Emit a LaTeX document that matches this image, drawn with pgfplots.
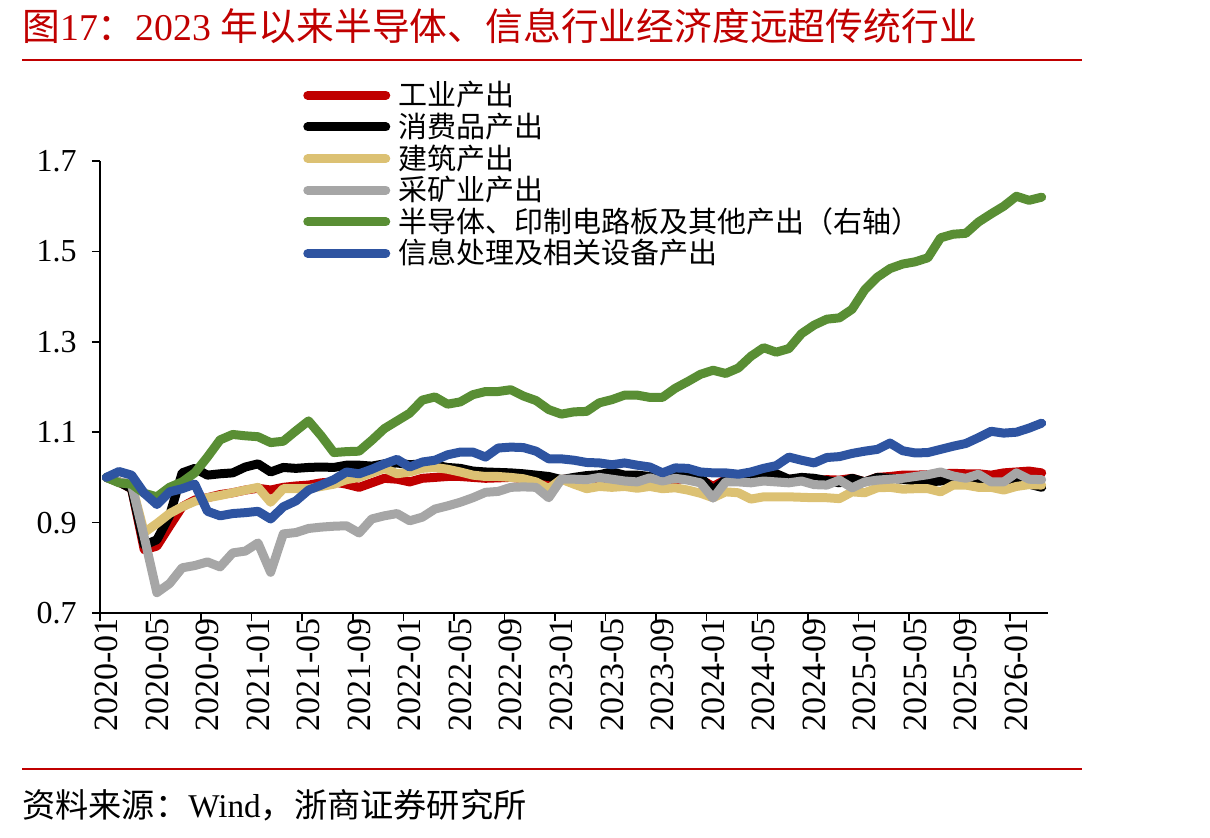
\documentclass[border=0pt]{standalone}
\usepackage{fontspec}
\setmainfont{Liberation Serif}
\newfontfamily\cjk{Noto Sans CJK SC}
\usepackage{pgfplots}
\usepackage{pgfplotstable}
\pgfplotsset{compat=1.18}

\definecolor{zsRed}{RGB}{192,0,0}
\definecolor{indRed}{RGB}{192,0,0}
\definecolor{consBlack}{RGB}{0,0,0}
\definecolor{constrTan}{RGB}{220,193,115}
\definecolor{mineGray}{RGB}{166,166,166}
\definecolor{semiGreen}{RGB}{89,142,52}
\definecolor{infoBlue}{RGB}{46,84,161}

% Monthly output indices, 2020-01 = 1
\pgfplotstableread{
idx ind   cons  constr mining semi  info
0   1.000 1.000 1.000 1.000 1.000 1.000
1   0.990 0.990 0.990 0.990 0.988 1.013
2   0.975 0.975 0.985 0.985 0.985 1.005
3   0.840 0.850 0.878 0.868 0.965 0.965
4   0.848 0.862 0.898 0.745 0.957 0.940
5   0.892 0.915 0.920 0.765 0.978 0.968
6   0.935 1.010 0.935 0.800 0.990 0.975
7   0.950 1.020 0.947 0.805 1.010 0.985
8   0.955 1.005 0.955 0.813 1.045 0.925
9   0.962 1.008 0.960 0.802 1.083 0.915
10  0.966 1.010 0.966 0.833 1.095 0.920
11  0.972 1.023 0.972 0.837 1.092 0.922
12  0.976 1.030 0.978 0.855 1.090 0.925
13  0.972 1.012 0.945 0.790 1.077 0.908
14  0.978 1.022 0.975 0.875 1.080 0.935
15  0.981 1.020 0.975 0.878 1.103 0.948
16  0.983 1.022 0.975 0.887 1.125 0.972
17  0.988 1.023 0.980 0.890 1.092 0.983
18  0.990 1.022 0.985 0.892 1.055 0.995
19  0.985 1.027 0.995 0.893 1.057 1.012
20  0.978 1.027 1.000 0.877 1.058 1.008
21  0.988 1.025 1.010 0.908 1.082 1.018
22  0.998 1.030 1.020 0.915 1.108 1.030
23  0.996 1.032 1.008 0.920 1.125 1.040
24  0.990 1.028 1.012 0.904 1.142 1.023
25  0.998 1.030 1.020 0.912 1.171 1.034
26  1.000 1.027 1.022 0.930 1.178 1.038
27  1.002 1.022 1.018 0.937 1.162 1.050
28  1.002 1.020 1.012 0.945 1.167 1.056
29  1.000 1.014 1.005 0.955 1.183 1.056
30  0.998 1.012 1.002 0.967 1.190 1.045
31  0.999 1.011 1.002 0.969 1.190 1.065
32  1.000 1.010 1.000 0.978 1.194 1.067
33  0.997 1.008 0.997 0.979 1.180 1.066
34  0.995 1.005 0.990 0.978 1.170 1.058
35  0.988 1.002 0.975 0.955 1.150 1.041
36  0.995 0.995 0.996 0.996 1.140 1.041
37  0.998 1.000 0.985 0.996 1.145 1.038
38  0.998 1.004 0.975 0.995 1.146 1.033
39  0.998 1.006 0.980 1.000 1.165 1.032
40  0.996 1.012 0.978 0.996 1.172 1.028
41  0.998 1.005 0.980 0.992 1.182 1.032
42  0.994 1.005 0.976 0.990 1.182 1.027
43  0.995 1.002 0.980 0.999 1.177 1.023
44  0.996 1.000 0.975 0.992 1.177 1.010
45  0.995 1.003 0.977 0.998 1.197 1.021
46  0.998 1.005 0.972 0.994 1.212 1.020
47  0.996 1.000 0.965 0.988 1.228 1.012
48  0.980 0.972 0.955 0.954 1.237 1.010
49  0.995 0.995 0.968 0.990 1.230 1.010
50  0.996 1.000 0.966 0.990 1.242 1.007
51  0.998 1.004 0.952 0.988 1.268 1.012
52  1.000 1.006 0.957 0.992 1.287 1.020
53  0.996 1.008 0.957 0.990 1.277 1.026
54  0.996 0.996 0.957 0.988 1.285 1.045
55  0.994 1.000 0.956 0.992 1.318 1.038
56  0.992 0.998 0.955 0.984 1.337 1.032
57  0.995 0.993 0.955 0.983 1.350 1.044
58  0.994 0.988 0.953 0.994 1.353 1.046
59  0.998 0.998 0.968 0.977 1.372 1.053
60  0.990 0.990 0.966 0.990 1.415 1.058
61  1.000 1.000 0.977 0.994 1.443 1.062
62  1.002 0.998 0.978 0.996 1.462 1.076
63  1.005 0.996 0.974 0.998 1.472 1.059
64  1.005 0.992 0.975 1.002 1.477 1.054
65  1.006 0.990 0.975 1.006 1.486 1.055
66  1.008 0.992 0.968 1.012 1.530 1.062
67  1.009 0.998 0.983 1.003 1.538 1.069
68  1.008 0.995 0.983 0.998 1.540 1.075
69  1.008 0.990 0.978 1.007 1.565 1.088
70  1.005 0.985 0.978 0.990 1.583 1.102
71  1.010 0.987 0.972 0.990 1.600 1.098
72  1.012 0.990 0.980 1.010 1.622 1.100
73  1.014 0.985 0.984 0.996 1.613 1.109
74  1.010 0.978 0.983 0.995 1.620 1.120
}\outputdata

\begin{document}
\begin{tikzpicture}
% page frame
\path (0,0) rectangle (605bp,419bp);

% heading and source line
\node[anchor=base west, inner sep=0pt, text=zsRed,
      font=\fontsize{18.9bp}{21bp}\selectfont] at (11bp,398.5bp)
  {{\cjk 图}17{\cjk ：}2023 {\cjk 年以来半导体、信息行业经济度远超传统行业}};
\draw[zsRed, line width=1bp] (11bp,389bp) -- (541bp,389bp);
\draw[zsRed, line width=1bp] (11bp,34.5bp) -- (541bp,34.5bp);
\node[anchor=base west, inner sep=0pt,
      font=\fontsize{16.6bp}{18bp}\selectfont] at (11bp,10.5bp)
  {{\cjk 资料来源：}Wind{\cjk ，浙商证券研究所}};

\begin{axis}[
  at={(50bp,112.5bp)}, anchor=south west,
  scale only axis, width=474bp, height=226bp,
  xmin=-0.5, xmax=74.5, ymin=0.7, ymax=1.7,
  axis x line*=bottom, axis y line*=left,
  axis line style={line width=0.75bp, black},
  tick align=outside, major tick length=4bp,
  tick style={line width=0.75bp, black},
  xtick={-0.5,3.5,...,71.5}, xticklabels={},
  extra x ticks={0,4,8,12,16,20,24,28,32,36,40,44,48,52,56,60,64,68,72},
  extra x tick labels={2020-01,2020-05,2020-09,2021-01,2021-05,2021-09,
    2022-01,2022-05,2022-09,2023-01,2023-05,2023-09,2024-01,2024-05,
    2024-09,2025-01,2025-05,2025-09,2026-01},
  extra x tick style={major tick length=0pt},
  x tick label style={rotate=90, anchor=east, inner sep=0pt,
    xshift=-2.5bp, font=\fontsize{17bp}{19bp}\selectfont},
  ytick={0.7,0.9,1.1,1.3,1.5,1.7},
  yticklabels={0.7,0.9,1.1,1.3,1.5,1.7},
  y tick label style={font=\fontsize{16bp}{18bp}\selectfont, inner sep=0pt, xshift=-7.5bp},
  clip=false,
  every axis plot/.append style={line width=4.5bp, line join=round, line cap=round},
  legend cell align=left,
  legend style={at={(0.214,1.181)}, anchor=north west, draw=none, fill=none,
    inner sep=0pt, row sep=0pt, column sep=4bp,
    font=\cjk\fontsize{14.5bp}{16bp}\selectfont,
    nodes={inner sep=0pt, text height=13.2bp, text depth=2.6bp}},
  legend image code/.code={
    \draw[#1, line width=4.5bp, line cap=round] (2.25bp,0pt) -- (41.25bp,0pt);},
]
\addplot[indRed]     table[x=idx, y=ind]    {\outputdata};
\addlegendentry{工业产出}
\addplot[consBlack]  table[x=idx, y=cons]   {\outputdata};
\addlegendentry{消费品产出}
\addplot[constrTan]  table[x=idx, y=constr] {\outputdata};
\addlegendentry{建筑产出}
\addplot[mineGray]   table[x=idx, y=mining] {\outputdata};
\addlegendentry{采矿业产出}
\addplot[semiGreen]  table[x=idx, y=semi]   {\outputdata};
\addlegendentry{半导体、印制电路板及其他产出（右轴）}
\addplot[infoBlue]   table[x=idx, y=info]   {\outputdata};
\addlegendentry{信息处理及相关设备产出}
\end{axis}
\end{tikzpicture}
\end{document}
